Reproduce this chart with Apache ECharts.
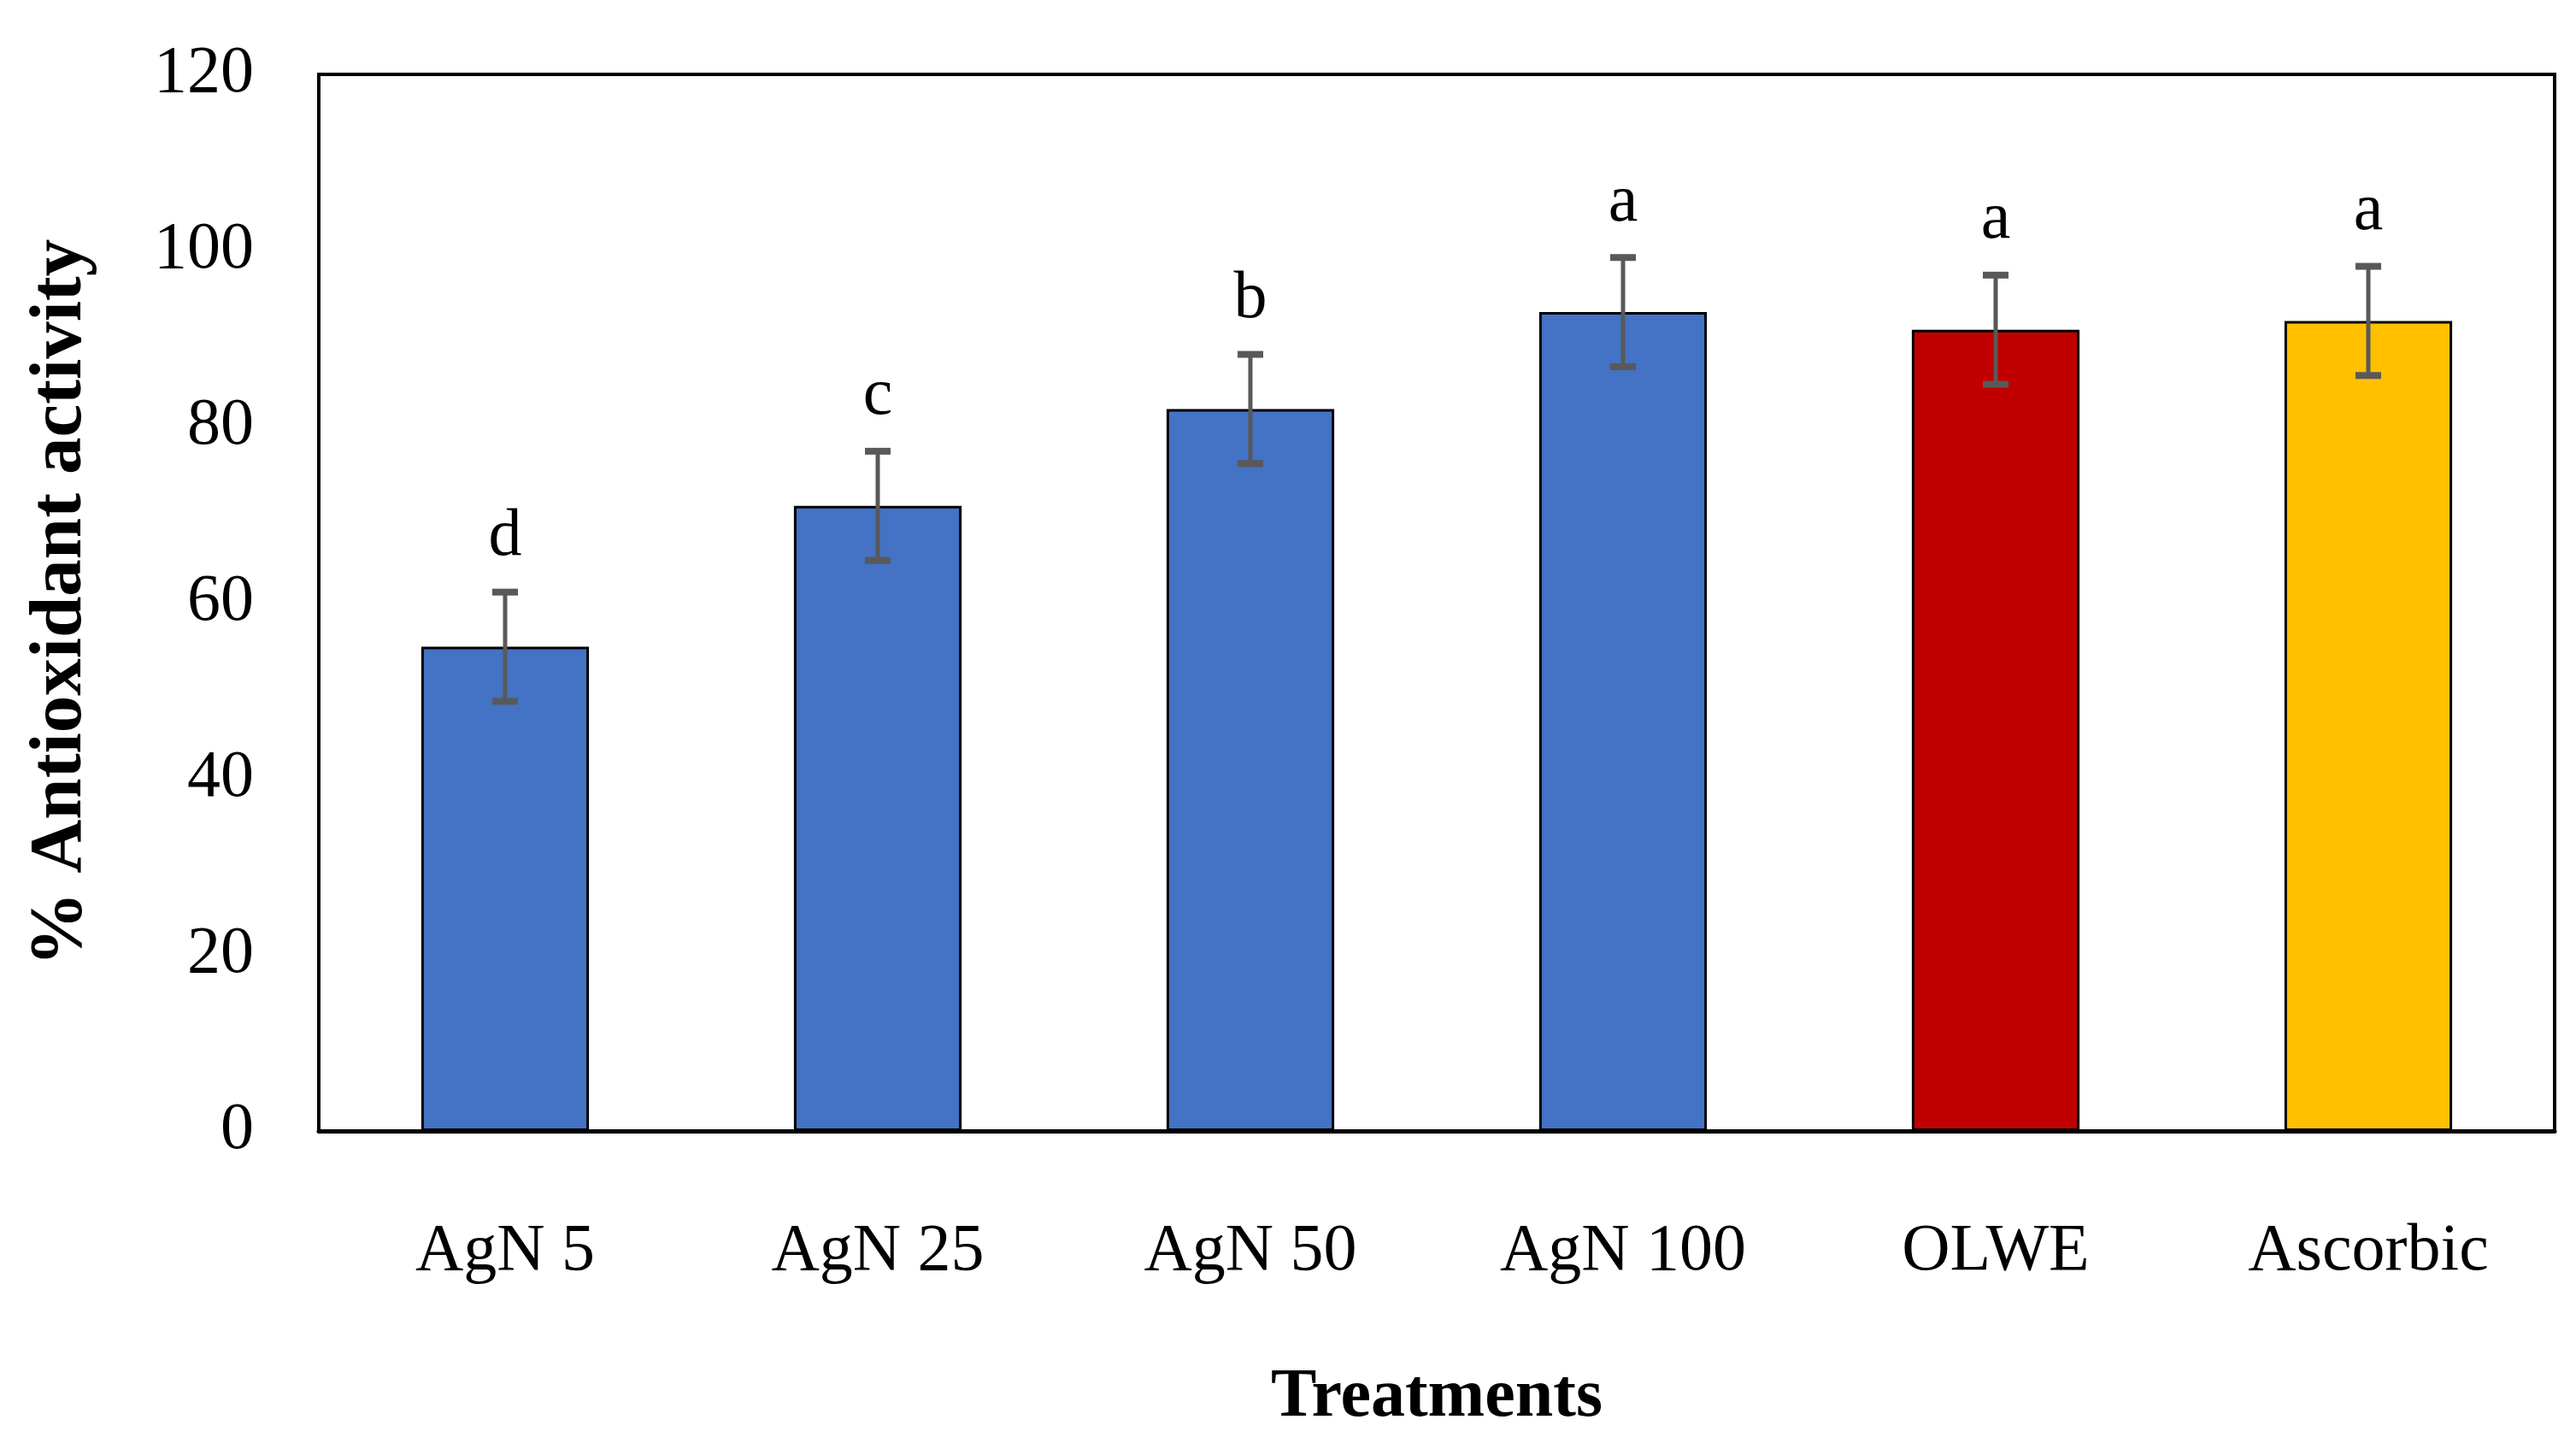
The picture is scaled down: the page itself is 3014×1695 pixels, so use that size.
<!DOCTYPE html>
<html>
<head>
<meta charset="utf-8">
<script src="https://cdn.jsdelivr.net/npm/echarts@6/dist/echarts.min.js"></script>
<style>
html,body{margin:0;padding:0;background:#fff;}
#chart{width:3014px;height:1695px;}
</style>
</head>
<body>
<div id="chart"></div>
<script>
const categories = ['AgN 5', 'AgN 25', 'AgN 50', 'AgN 100', 'OLWE', 'Ascorbic'];
const values = [55, 71, 82, 93, 91, 92];
const errors = [6.2, 6.2, 6.2, 6.2, 6.2, 6.2];
const letters = ['d', 'c', 'b', 'a', 'a', 'a'];
const barColors = ['#4472C4', '#4472C4', '#4472C4', '#4472C4', '#C00000', '#FFC000'];
const yTicks = [0, 20, 40, 60, 80, 100, 120];

const FONT = '"Liberation Serif", "Times New Roman", serif';
const chart = echarts.init(document.getElementById('chart'));

chart.setOption({
  backgroundColor: '#fff',
  animation: false,
  grid: {
    left: 373, right: 25, top: 87, bottom: 372,
    show: true, borderColor: '#000', borderWidth: 4, backgroundColor: 'transparent'
  },
  xAxis: {
    type: 'category',
    data: categories,
    name: 'Treatments',
    nameLocation: 'middle',
    nameGap: 272,
    nameTextStyle: { fontFamily: FONT, fontWeight: 'bold', fontSize: 80, color: '#000' },
    axisLine: { show: true, lineStyle: { color: '#000', width: 5 } },
    axisTick: { show: false },
    axisLabel: { margin: 103, fontFamily: FONT, fontSize: 78, color: '#000' }
  },
  yAxis: {
    type: 'value',
    min: yTicks[0],
    max: yTicks[yTicks.length - 1],
    interval: yTicks[1] - yTicks[0],
    name: '% Antioxidant activity',
    nameLocation: 'middle',
    nameGap: 258,
    nameTextStyle: { fontFamily: FONT, fontWeight: 'bold', fontSize: 87, color: '#000' },
    axisLine: { show: true, lineStyle: { color: '#000', width: 4 } },
    axisTick: { show: false },
    splitLine: { show: false },
    axisLabel: { margin: 76, fontFamily: FONT, fontSize: 78, color: '#000' }
  },
  series: [
    {
      type: 'bar',
      barWidth: '45%',
      data: values.map((v, i) => ({
        value: v,
        itemStyle: { color: barColors[i], borderColor: '#000', borderWidth: 3 }
      })),
      z: 2
    },
    {
      type: 'custom',
      z: 5,
      data: values.map((v, i) => [i, v, errors[i]]),
      renderItem: function (params, api) {
        const x = api.value(0), v = api.value(1), e = api.value(2);
        const top = api.coord([x, v + e]);
        const bot = api.coord([x, v - e]);
        const hw = 15;
        const stroke = '#595959';
        return {
          type: 'group',
          children: [
            { type: 'line', shape: { x1: top[0], y1: top[1], x2: bot[0], y2: bot[1] }, style: { stroke: stroke, lineWidth: 5 } },
            { type: 'line', shape: { x1: top[0] - hw, y1: top[1], x2: top[0] + hw, y2: top[1] }, style: { stroke: stroke, lineWidth: 8 } },
            { type: 'line', shape: { x1: bot[0] - hw, y1: bot[1], x2: bot[0] + hw, y2: bot[1] }, style: { stroke: stroke, lineWidth: 8 } },
            { type: 'text', x: top[0], y: top[1] - 64,
              style: { text: letters[params.dataIndex], fill: '#000', font: '78px ' + FONT, align: 'center', verticalAlign: 'middle' } }
          ]
        };
      }
    }
  ]
});
</script>
</body>
</html>
